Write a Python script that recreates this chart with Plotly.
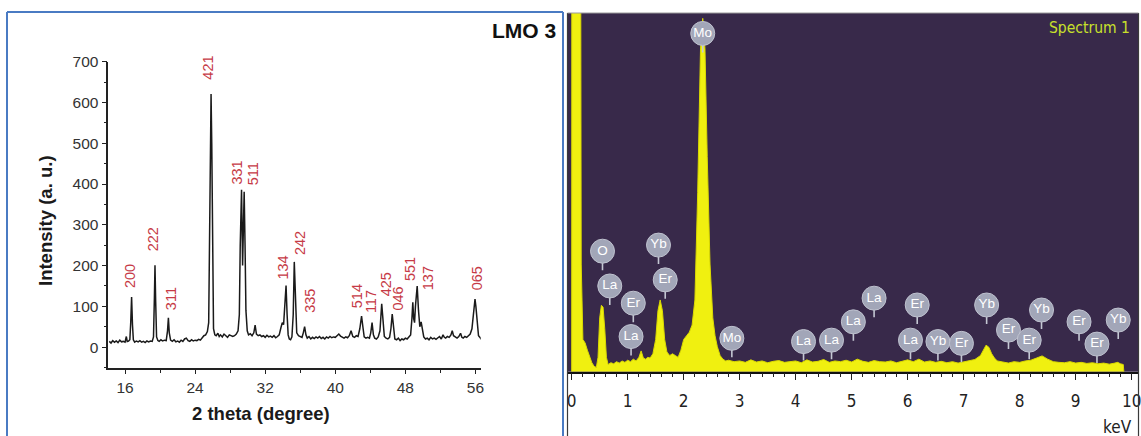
import plotly.graph_objects as go

W, H = 1141, 436

# ---------------- XRD data (2 theta, intensity) ----------------
xrd_2theta = [14.2, 14.4, 14.6, 14.8, 15.0, 15.2, 15.4, 15.6, 15.8, 16.0, 16.15, 16.25, 16.4, 16.55, 16.65, 16.75, 16.85, 16.95,
              17.1, 17.3, 17.5, 17.7, 17.9, 18.1, 18.3, 18.5, 18.7, 18.9, 19.1, 19.25, 19.35, 19.42, 19.5, 19.6, 19.75, 19.9,
              20.1, 20.3, 20.5, 20.7, 20.85, 20.95, 21.05, 21.2, 21.4, 21.6, 21.8, 22.0, 22.2, 22.4, 22.6, 22.8, 23.0, 23.2,
              23.4, 23.6, 23.8, 24.0, 24.2, 24.4, 24.6, 24.8, 25.0, 25.2, 25.4, 25.55, 25.65, 25.75, 25.82, 25.9, 26.0, 26.1,
              26.25, 26.4, 26.6, 26.75, 26.9, 27.1, 27.3, 27.5, 27.7, 27.9, 28.1, 28.3, 28.5, 28.7, 28.9, 29.05, 29.15, 29.3,
              29.42, 29.52, 29.6, 29.7, 29.8, 29.95, 30.1, 30.3, 30.5, 30.7, 30.85, 31.0, 31.2, 31.4, 31.6, 31.8, 32.0, 32.2,
              32.4, 32.6, 32.8, 33.0, 33.2, 33.4, 33.6, 33.8, 33.95, 34.1, 34.25, 34.38, 34.5, 34.62, 34.75, 34.9, 35.05, 35.2,
              35.32, 35.45, 35.6, 35.8, 36.0, 36.2, 36.35, 36.5, 36.65, 36.8, 37.0, 37.2, 37.4, 37.6, 37.8, 38.0, 38.2, 38.4,
              38.6, 38.8, 39.0, 39.2, 39.4, 39.6, 39.8, 40.0, 40.2, 40.4, 40.6, 40.8, 41.0, 41.2, 41.4, 41.6, 41.8, 42.0, 42.2,
              42.4, 42.6, 42.8, 43.0, 43.15, 43.3, 43.5, 43.7, 43.9, 44.05, 44.2, 44.35, 44.5, 44.7, 44.9, 45.1, 45.3, 45.45,
              45.6, 45.8, 46.0, 46.2, 46.35, 46.5, 46.65, 46.8, 47.0, 47.2, 47.4, 47.6, 47.8, 48.0, 48.2, 48.4, 48.6, 48.75,
              48.85, 48.95, 49.05, 49.15, 49.35, 49.5, 49.65, 49.8, 49.95, 50.1, 50.3, 50.5, 50.7, 50.9, 51.1, 51.3, 51.5, 51.7,
              51.9, 52.1, 52.3, 52.45, 52.6, 52.8, 53.0, 53.2, 53.35, 53.5, 53.7, 53.9, 54.1, 54.3, 54.45, 54.6, 54.8, 55.0,
              55.2, 55.4, 55.6, 55.8, 55.95, 56.05, 56.2, 56.35, 56.5, 56.65, 56.8]
xrd_intensity = [14, 10, 16, 12, 15, 11, 17, 13, 14, 12, 26, 14, 15, 18, 60, 123, 55, 18,
                 12, 15, 13, 16, 12, 14, 11, 15, 13, 15, 14, 25, 120, 201, 110, 25, 16, 14,
                 18, 15, 17, 16, 40, 72, 35, 17, 14, 18, 13, 15, 12, 17, 14, 20, 22, 16,
                 14, 18, 15, 17, 16, 19, 17, 22, 28, 30, 38, 60, 300, 560, 621, 500, 200, 45,
                 30, 28, 34, 26, 30, 25, 32, 28, 24, 30, 27, 26, 28, 32, 40, 80, 250, 386,
                 200, 300, 381, 250, 90, 40, 30, 33, 28, 35, 54, 32, 28, 30, 26, 28, 24, 29,
                 25, 27, 24, 28, 23, 26, 30, 48, 60, 55, 100, 151, 80, 30, 20, 18, 25, 80,
                 209, 120, 35, 28, 25, 24, 35, 50, 30, 22, 26, 20, 24, 21, 25, 22, 26, 21,
                 24, 20, 25, 22, 26, 23, 25, 24, 28, 32, 27, 24, 22, 25, 23, 28, 40, 26, 24,
                 28, 26, 45, 76, 50, 25, 22, 24, 22, 35, 60, 30, 22, 20, 25, 40, 106, 60,
                 26, 22, 20, 24, 45, 81, 40, 20, 18, 22, 16, 20, 18, 22, 20, 24, 30, 70,
                 110, 70, 60, 100, 150, 90, 50, 62, 45, 25, 20, 22, 18, 24, 20, 22, 19, 23,
                 26, 20, 30, 24, 22, 26, 24, 30, 40, 28, 24, 22, 26, 34, 24, 22, 26, 24,
                 28, 32, 45, 85, 118, 100, 50, 28, 24, 20, 22]

# peak (hkl) labels: text, 2theta position, bottom intensity of the label
hkl_labels = ["200", "222", "311", "421", "331", "511", "134", "242", "335",
              "514", "117", "425", "046", "551", "137", "065"]
hkl_x = [16.57, 19.23, 21.2, 25.47, 28.75, 30.6, 34.0, 35.98, 37.1,
         42.5, 44.16, 45.8, 47.13, 48.53, 50.6, 56.2]
hkl_y = [140, 231, 86, 651, 393, 393, 160, 221, 79,
         91, 79, 120, 84, 157, 135, 135]

xrd_xticks = [16, 24, 32, 40, 48, 56]
xrd_yticks = [0, 100, 200, 300, 400, 500, 600, 700]

# ---------------- EDS data (keV, counts) ----------------
eds_kev = [0.0, 0.005, 0.14, 0.17, 0.2, 0.24, 0.28, 0.32, 0.36, 0.40, 0.44, 0.47, 0.50, 0.53, 0.56, 0.59, 0.62, 0.65,
           0.70, 0.75, 0.80, 0.85, 0.90, 0.95, 1.00, 1.05, 1.10, 1.15, 1.20, 1.24, 1.28, 1.32, 1.36, 1.40, 1.45, 1.50,
           1.54, 1.58, 1.62, 1.66, 1.70, 1.75, 1.80, 1.85, 1.90, 1.95, 2.00, 2.05, 2.10, 2.15, 2.20, 2.25, 2.30, 2.34,
           2.38, 2.42, 2.47, 2.52, 2.56, 2.60, 2.65, 2.70, 2.75, 2.8, 2.9, 3.0, 3.1, 3.2, 3.3, 3.4, 3.5, 3.6, 3.7, 3.8,
           3.9, 4.0, 4.1, 4.2, 4.3, 4.4, 4.5, 4.6, 4.7, 4.8, 4.9, 5.0, 5.1, 5.2, 5.3, 5.4, 5.5, 5.6, 5.7, 5.8, 5.9,
           6.0, 6.1, 6.2, 6.3, 6.4, 6.5, 6.6, 6.7, 6.8, 6.9, 7.0, 7.1, 7.2, 7.3, 7.35, 7.4, 7.45, 7.5, 7.55, 7.6,
           7.7, 7.8, 7.9, 8.0, 8.1, 8.2, 8.3, 8.4, 8.5, 8.6, 8.7, 8.8, 8.9, 9.0, 9.1, 9.2, 9.3, 9.4, 9.5, 9.6,
           9.7, 9.75, 9.8, 9.85, 9.86]
eds_counts = [0, 3000, 3000, 300, 90, 80, 60, 40, 25, 15, 12, 40, 150, 185, 180, 120, 40, 20,
              25, 22, 28, 24, 30, 26, 32, 28, 35, 30, 40, 58, 38, 35, 40, 38, 50, 90,
              170, 200, 170, 90, 55, 45, 50, 45, 40, 60, 90, 100, 110, 130, 200, 500, 900, 985,
              900, 600, 300, 150, 100, 70, 45, 35, 30, 32, 28, 30, 26, 33, 27, 30, 25, 29, 31, 26,
              28, 30, 25, 33, 27, 29, 34, 26, 30, 28, 32, 27, 35, 29, 26, 31, 28, 27, 30, 25, 29,
              33, 28, 35, 27, 30, 26, 29, 25, 28, 24, 27, 30, 34, 45, 60, 74, 68, 50, 38, 30,
              27, 24, 28, 26, 30, 32, 38, 44, 35, 28, 26, 25, 28, 24, 26, 23, 25, 22, 24, 21,
              24, 26, 22, 20, 0]

# element markers: symbol, energy (keV), label height (counts)
el_names = ["Mo", "O", "La", "Er", "La", "Yb", "Er", "Mo", "La", "La", "La", "La",
            "Er", "La", "Yb", "Er", "Yb", "Er", "Yb", "Er", "Er", "Er", "Yb"]
el_kev = [2.34, 0.55, 0.68, 1.10, 1.06, 1.55, 1.67, 2.86, 4.14, 4.64, 5.03, 5.40,
          6.17, 6.05, 6.54, 6.96, 7.41, 7.80, 8.39, 8.17, 9.06, 9.38, 9.76]
el_y = [943, 336, 239, 191, 98, 353, 256, 93, 84, 88, 139, 205,
        186, 88, 84, 79, 186, 116, 172, 88, 139, 77, 144]

eds_xticks = [0, 1, 2, 3, 4, 5, 6, 7, 8, 9, 10]

# ---------------- figure ----------------
fig = go.Figure()

fig.add_trace(go.Scatter(x=xrd_2theta, y=xrd_intensity, mode="lines",
                         line=dict(color="#1a1a1a", width=1.5), xaxis="x", yaxis="y",
                         showlegend=False, hoverinfo="skip"))

fig.add_trace(go.Scatter(x=eds_kev, y=eds_counts, mode="lines", fill="tozeroy",
                         fillcolor="#f0f010", line=dict(color="#dada00", width=1),
                         xaxis="x2", yaxis="y2", showlegend=False, hoverinfo="skip"))

# stems of the element markers (pixels converted to data units of y2)
y2_per_px = 1000 / 358.7
stem_x, stem_y = [], []
for xv, yv in zip(el_kev, el_y):
    stem_x += [xv, xv, None]
    stem_y += [yv - 10 * y2_per_px, yv - 19 * y2_per_px, None]
fig.add_trace(go.Scatter(x=stem_x, y=stem_y, mode="lines",
                         line=dict(color="#c4c7d3", width=1.6), xaxis="x2", yaxis="y2",
                         showlegend=False, hoverinfo="skip"))

fig.add_trace(go.Scatter(x=el_kev, y=el_y, mode="markers+text", text=el_names,
                         textposition="middle center",
                         textfont=dict(color="white", size=13.5, family="Liberation Sans, Arial, sans-serif"),
                         marker=dict(size=24, color="#a2a6b8", line=dict(color="#bfc2cf", width=1)),
                         xaxis="x2", yaxis="y2", showlegend=False, hoverinfo="skip",
                         cliponaxis=False))

font_main = "Liberation Sans, Arial, Helvetica, sans-serif"
font_narrow = "Liberation Sans Narrow, Arial Narrow, DejaVu Sans Condensed, Liberation Sans, Arial, sans-serif"

fig.update_layout(
    width=W, height=H,
    margin=dict(l=0, r=0, t=0, b=0, pad=0, autoexpand=False),
    paper_bgcolor="white", plot_bgcolor="white",
    showlegend=False,
    xaxis=dict(domain=[108.3 / W, 480.7 / W], range=[14.09, 56.6], automargin=False,
               tickvals=xrd_xticks, ticks="outside", ticklen=5, tickwidth=1.3, tickcolor="#222",
               minor=dict(dtick=4, tick0=0, ticks="outside", ticklen=4, tickwidth=1.2, tickcolor="#222"),
               showline=True, linecolor="#222", linewidth=1.5, showgrid=False, zeroline=False,
               tickfont=dict(family=font_main, size=15.5, color="#333"), anchor="y"),
    yaxis=dict(domain=[(H - 367.5) / H, (H - 61.7) / H], range=[-50, 700], automargin=False,
               tickvals=xrd_yticks, ticks="outside", ticklen=5, tickwidth=1.3, tickcolor="#222",
               minor=dict(dtick=50, tick0=0, ticks="outside", ticklen=3, tickwidth=1.2, tickcolor="#222"),
               showline=True, linecolor="#222", linewidth=1.5, showgrid=False, zeroline=False,
               tickfont=dict(family=font_main, size=15.5, color="#333"), anchor="x"),
    xaxis2=dict(domain=[567 / W, 1138 / W], range=[-0.084, 10.113], automargin=False,
                tickvals=eds_xticks, ticks="outside", ticklen=7, tickwidth=1.3, tickcolor="#222",
                minor=dict(dtick=0.2, tick0=0, ticks="outside", ticklen=4, tickwidth=1.1, tickcolor="#222"),
                showline=True, linecolor="#111", linewidth=1.5, showgrid=False, zeroline=False,
                ticklabelstandoff=6, ticklabeloverflow="allow",
                tickfont=dict(family=font_narrow, size=17, color="#222"), anchor="y2"),
    yaxis2=dict(domain=[(H - 371.7) / H, (H - 13) / H], range=[0, 1000], automargin=False,
                showticklabels=False, ticks="", showline=False, showgrid=False, zeroline=False,
                anchor="x2"),
)

shapes = []
# dark purple plot area for the EDS panel
shapes.append(dict(type="rect", xref="x2 domain", yref="y2 domain", x0=0, x1=1, y0=0, y1=1,
                   fillcolor="#38294a", line=dict(width=0), layer="below"))


def px(xp):
    return xp / W


def py(yp):
    return (H - yp) / H


blue = "#4a7bc3"
shapes.append(dict(type="line", xref="paper", yref="paper", x0=px(7), x1=px(563), y0=py(12), y1=py(12),
                   line=dict(color=blue, width=2)))
shapes.append(dict(type="line", xref="paper", yref="paper", x0=px(7), x1=px(7), y0=py(12), y1=py(440),
                   line=dict(color=blue, width=2)))
shapes.append(dict(type="line", xref="paper", yref="paper", x0=px(563), x1=px(563), y0=py(12), y1=py(440),
                   line=dict(color=blue, width=2)))
# frame of the EDS panel
shapes.append(dict(type="line", xref="paper", yref="paper", x0=px(567.5), x1=px(567.5), y0=py(13), y1=py(440),
                   line=dict(color="#3a3a3a", width=1.2)))
shapes.append(dict(type="line", xref="paper", yref="paper", x0=px(1138.5), x1=px(1138.5), y0=py(13), y1=py(440),
                   line=dict(color="#3a3a3a", width=1.2)))
shapes.append(dict(type="line", xref="paper", yref="paper", x0=px(567.5), x1=px(1138.5), y0=py(13), y1=py(13),
                   line=dict(color="#9a9a9a", width=1)))
fig.update_layout(shapes=shapes)

ann = []
for t, xv, yv in zip(hkl_labels, hkl_x, hkl_y):
    ann.append(dict(x=xv, y=yv, xref="x", yref="y", text=t, showarrow=False, textangle=-90,
                    xanchor="center", yanchor="bottom",
                    font=dict(family=font_main, size=14.5, color="#c63a46")))

ann.append(dict(x=px(45), y=py(221), xref="paper", yref="paper", text="<b>Intensity (a. u.)</b>",
                showarrow=False, textangle=-90, xanchor="center", yanchor="middle",
                font=dict(family=font_main, size=18.5, color="#1a1a1a")))
ann.append(dict(x=px(261), y=py(413), xref="paper", yref="paper", text="<b>2 theta (degree)</b>",
                showarrow=False, xanchor="center", yanchor="middle",
                font=dict(family=font_main, size=18.5, color="#1a1a1a")))
ann.append(dict(x=px(558), y=py(31), xref="paper", yref="paper", text="<b>LMO 3</b>",
                showarrow=False, xanchor="right", yanchor="middle",
                font=dict(family=font_main, size=21, color="#111")))
ann.append(dict(x=px(1132), y=py(28), xref="paper", yref="paper", text="Spectrum 1",
                showarrow=False, xanchor="right", yanchor="middle",
                font=dict(family=font_narrow, size=15.5, color="#c8e02a")))
ann.append(dict(x=px(1134), y=py(427), xref="paper", yref="paper", text="keV",
                showarrow=False, xanchor="right", yanchor="middle",
                font=dict(family=font_narrow, size=17, color="#222")))
fig.update_layout(annotations=ann)

fig.write_html("out.html",
               config={"displayModeBar": False},
               post_script="document.body.style.margin='0';document.body.style.padding='0';"
                           "document.body.style.overflow='hidden';")
